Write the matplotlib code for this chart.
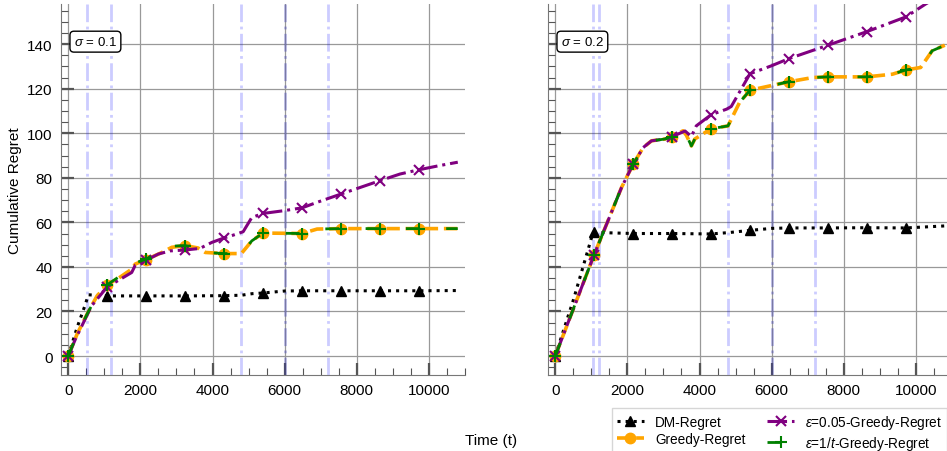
import matplotlib
matplotlib.use("Agg")
import matplotlib.pyplot as plt
from matplotlib.ticker import MultipleLocator

plt.rcParams['font.family'] = ['Liberation Sans', 'DejaVu Sans']
plt.rcParams['mathtext.fontset'] = 'custom'
plt.rcParams['mathtext.rm'] = 'Liberation Sans'
plt.rcParams['mathtext.it'] = 'Liberation Sans:italic'

# --- data: sigma = 0.1 ---
dm1_t = [0, 250, 450, 560, 1080, 2160, 3240, 4320, 4800, 5100, 5400, 6000, 6480, 7560, 8640, 9720, 10800]
dm1 = [0, 13, 22, 27.5, 27, 27, 27, 27.1, 27.3, 28, 28.3, 29.2, 29.3, 29.3, 29.3, 29.3, 29.4]

gr1_t = [0, 250, 560, 800, 1080, 1400, 1760, 1860, 2160, 2600, 2870, 3240, 3600, 3800, 4320, 4800,
         5090, 5400, 6000, 6480, 6900, 7560, 8640, 9720, 10800]
gr1 = [0, 10, 20, 27, 32, 35, 39, 41.3, 43.3, 46.5, 48.8, 49.6, 48.5, 46.5, 46, 46,
       51.7, 55.2, 55.1, 55, 57, 57.2, 57.2, 57.2, 57.2]
eg1_t = gr1_t
eg1 = [0, 10, 20, 27, 32, 35.5, 39.5, 41.8, 43.5, 47.5, 49.3, 49.6, 48.5, 46.5, 46, 46,
       51.7, 55.2, 55.1, 55, 57, 57.2, 57.2, 57.2, 57.2]

ep1_t = [0, 200, 650, 1080, 1760, 1860, 2160, 2500, 2830, 3240, 3650, 3980, 4320, 4580, 4850, 5090,
         5400, 5960, 6480, 6900, 7560, 8640, 9200, 9720, 10300, 10800]
ep1 = [0, 7.6, 22.6, 31, 37.5, 40.8, 43, 45.8, 47.2, 47.6, 48.3, 51, 53, 54.3, 55.8, 62.2,
       64, 65.2, 66.5, 69, 72.7, 78.7, 81.7, 83.6, 85.5, 87]

# --- data: sigma = 0.2 ---
dm2_t = [0, 500, 1050, 1080, 2160, 3240, 4320, 4800, 5400, 6000, 6480, 7560, 8640, 9720, 10800]
dm2 = [0, 25, 55.5, 55.5, 55, 55, 54.8, 55.4, 56.4, 57.3, 57.5, 57.5, 57.6, 57.5, 58.4]

gr2_t = [0, 1080, 1840, 2160, 2440, 2670, 3040, 3240, 3545, 3640, 3775, 3870, 4320, 4790, 5110,
         5400, 5940, 6480, 7140, 7560, 8640, 9350, 9720, 10130, 10450, 10800]
gr2 = [0, 45.5, 75.7, 86.1, 93.6, 96.6, 97.4, 98.5, 101.1, 99, 94.3, 97.4, 102, 103.3, 113.8,
       119.3, 121.2, 123.1, 125, 125.3, 125.3, 126.5, 128.4, 129.5, 137, 139.5]
eg2_t = gr2_t
eg2 = gr2

ep2_t = [0, 1080, 1840, 2160, 2440, 2670, 3040, 3240, 3600, 3775, 3910, 4320, 4750, 4880, 5400,
         6000, 6480, 7560, 8640, 9720, 10270, 10800]
ep2 = [0, 45.5, 75.7, 86.1, 93.6, 96.6, 97.4, 98.5, 101, 98.5, 103.3, 108.3, 110.8, 112, 126.7,
       130.3, 133.5, 139.5, 145.6, 152.2, 158, 163]

# change points (vertical lines)
cp1 = [520, 1190, 4800, 7200]
cp2 = [1060, 1220, 4800, 7200]
cp_strong = [6000]

mark_step = 1080


def marks(t):
    return [i for i, v in enumerate(t) if v % mark_step == 0 and v < 10800]


fig = plt.figure(figsize=(9.47, 4.52), dpi=100)
ax1 = fig.add_axes([61 / 947, 76 / 452, 404 / 947, 371 / 452])
ax2 = fig.add_axes([548 / 947, 76 / 452, 404 / 947, 371 / 452], sharey=ax1)

panels = [
    (ax1, r'$\sigma$ = 0.1', dm1_t, dm1, gr1_t, gr1, ep1_t, ep1, eg1_t, eg1, cp1),
    (ax2, r'$\sigma$ = 0.2', dm2_t, dm2, gr2_t, gr2, ep2_t, ep2, eg2_t, eg2, cp2),
]

for ax, title, dmt, dm, grt, gr, ept, ep, egt, eg, cps in panels:
    for c in cps:
        ax.axvline(c, color='blue', alpha=0.2, lw=2, ls='-.', zorder=1)
    for c in cp_strong:
        ax.axvline(c, color='#3030c0', alpha=0.3, lw=2, ls='-.', zorder=1)

    ax.plot(dmt, dm, color='black', ls=':', lw=2.2, marker='^', ms=7.5,
            markevery=marks(dmt), label='DM-Regret', zorder=3)
    ax.plot(grt, gr, color='orange', ls='--', lw=2.6, marker='o', ms=7.5,
            markevery=marks(grt), label='Greedy-Regret', zorder=3)
    ax.plot(ept, ep, color='purple', ls='-.', lw=2.2, marker='x', ms=7.5, mew=1.5,
            markevery=marks(ept), label=r'$\varepsilon$=0.05-Greedy-Regret', zorder=3)
    ax.plot(egt, eg, color='green', ls=(0, (5, 9.5)), lw=2, marker='+', ms=8, mew=1.5,
            markevery=marks(egt), label=r'$\varepsilon$=1/$t$-Greedy-Regret', zorder=3)

    ax.text(0.032, 0.916, title, transform=ax.transAxes, ha='left', va='top', fontsize=9.5,
            bbox=dict(boxstyle='round,pad=0.3', fc='white', ec='black', lw=1), zorder=5)

    ax.set_xlim(-200, 11000)
    ax.xaxis.set_major_locator(MultipleLocator(2000))
    ax.xaxis.set_minor_locator(MultipleLocator(500))
    ax.yaxis.set_major_locator(MultipleLocator(20))
    ax.yaxis.set_minor_locator(MultipleLocator(5))
    ax.grid(True, which='major', color='#999999', lw=0.9, zorder=0)
    ax.set_axisbelow(True)
    ax.tick_params(which='major', direction='in', length=9, width=1.6, color='#555555',
                   labelsize=11, pad=6)
    ax.tick_params(which='minor', direction='in', length=5, width=0.8, color='#555555')
    for s in ['top', 'right']:
        ax.spines[s].set_visible(False)
    for s in ['left', 'bottom']:
        ax.spines[s].set_color('#777777')

ax1.set_ylim(-8.5, 158)
ax1.set_ylabel('Cumulative Regret', fontsize=11)
ax2.tick_params(labelleft=False)

fig.text(0.519, 0.024, 'Time (t)', ha='center', va='center', fontsize=11)

handles, labels = ax1.get_legend_handles_labels()
fig.legend(handles, labels, loc='upper left', bbox_to_anchor=(612 / 947, 1 - 409 / 452),
           ncol=2, fontsize=9.8, frameon=True, fancybox=False, edgecolor='#cccccc',
           borderaxespad=0, columnspacing=1.6, labelspacing=0.25, borderpad=0.35)

fig.savefig('out.png', dpi=100)
